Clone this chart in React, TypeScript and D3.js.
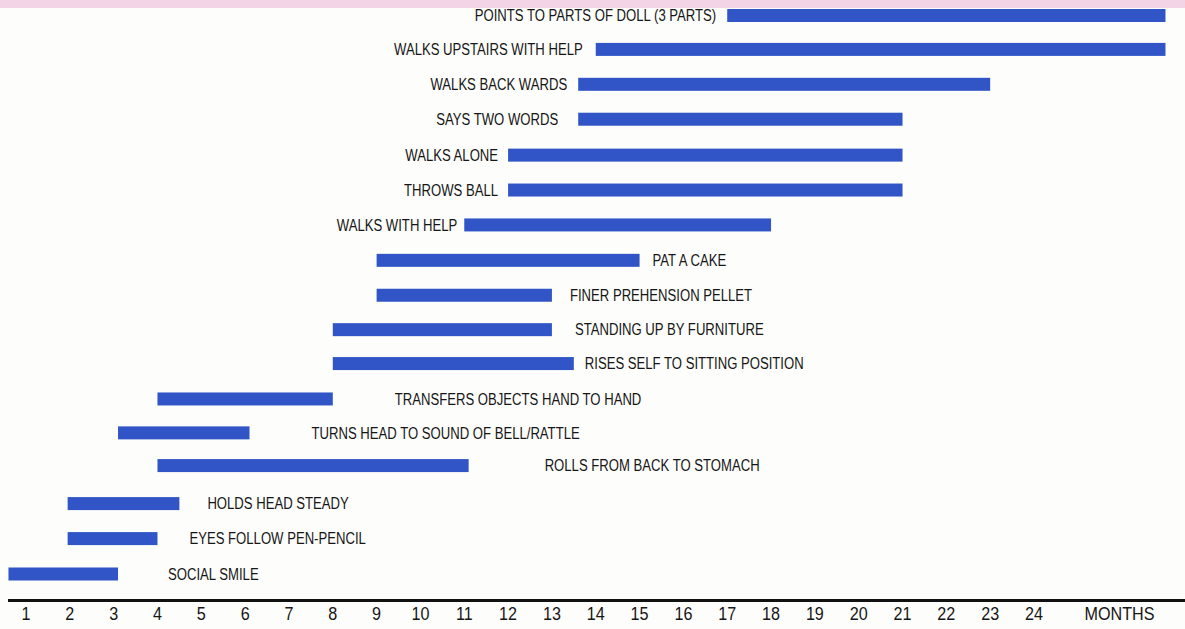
import { useEffect, useRef } from "react";
import * as d3 from "d3";

// milestones, top row first
const milestones = [
  "POINTS TO PARTS OF DOLL (3 PARTS)",
  "WALKS UPSTAIRS WITH HELP",
  "WALKS BACK WARDS",
  "SAYS TWO WORDS",
  "WALKS ALONE",
  "THROWS BALL",
  "WALKS WITH HELP",
  "PAT A CAKE",
  "FINER PREHENSION PELLET",
  "STANDING UP BY FURNITURE",
  "RISES SELF TO SITTING POSITION",
  "TRANSFERS OBJECTS HAND TO HAND",
  "TURNS HEAD TO SOUND OF BELL/RATTLE",
  "ROLLS FROM BACK TO STOMACH",
  "HOLDS HEAD STEADY",
  "EYES FOLLOW PEN-PENCIL",
  "SOCIAL SMILE",
];

// age range in months
const startMonth = [17, 14, 13.6, 13.6, 12, 12, 11, 9, 9, 8, 8, 4, 3.1, 4, 1.95, 1.95, 0.6];
const endMonth = [27, 27, 23, 21, 21, 21, 18, 15, 13, 13, 13.5, 8, 6.1, 11.1, 4.5, 4, 3.1];

// label sits left of the bar for the first 7 rows, right for the rest
const labelSide = ["L", "L", "L", "L", "L", "L", "L", "R", "R", "R", "R", "R", "R", "R", "R", "R", "R"];

const monthTicks = d3.range(1, 25);
const axisTitle = "MONTHS";

// layout only
const labelGap = [11, 13, 11, 20, 10, 10, 7, 13, 18, 23, 11, 62, 62, 76, 28, 32, 50];
const rowNudge = [0, -1, -1, -1, 0, 0, 0, 0.5, 0.5, 0, -1, -0.5, -1.5, -3.7, -0.6, -0.5, 0];

const W = 1185;
const H = 629;

export default function App() {
  const ref = useRef<SVGSVGElement>(null);

  useEffect(() => {
    document.body.style.margin = "0";
    if (!ref.current) return;
    const svg = d3.select(ref.current);
    svg.selectAll("*").remove();

    const x = d3.scaleLinear().domain([1, 24]).range([26, 1034]);
    const y = d3.scalePoint<string>().domain(milestones).range([15.5, 574]);

    svg.append("rect").attr("width", W).attr("height", H).attr("fill", "#fdfdfb");
    svg.append("rect").attr("width", W).attr("height", 8).attr("fill", "#f2d4e6");

    const barH = 13;
    const font = "'Liberation Sans', Arial, sans-serif";

    const rows = milestones.map((name, i) => ({
      name,
      s: startMonth[i],
      e: endMonth[i],
      side: labelSide[i],
      gap: labelGap[i],
      cy: (y(name) || 0) + rowNudge[i],
    }));

    svg
      .append("g")
      .selectAll("rect")
      .data(rows)
      .enter()
      .append("rect")
      .attr("x", (d) => x(d.s))
      .attr("y", (d) => d.cy - barH / 2)
      .attr("width", (d) => x(d.e) - x(d.s))
      .attr("height", barH)
      .attr("fill", "#3155c6");

    svg
      .append("g")
      .selectAll("text")
      .data(rows)
      .enter()
      .append("text")
      .attr("transform", (d) => {
        const tx = d.side === "L" ? x(d.s) - d.gap : x(d.e) + d.gap;
        return `translate(${tx},${d.cy + 5.8}) scale(0.82,1)`;
      })
      .attr("text-anchor", (d) => (d.side === "L" ? "end" : "start"))
      .attr("font-family", font)
      .attr("font-size", 16)
      .attr("fill", "#161616")
      .text((d) => d.name);

    // axis line
    svg
      .append("line")
      .attr("x1", 8)
      .attr("x2", W)
      .attr("y1", 600.5)
      .attr("y2", 600.5)
      .attr("stroke", "#111")
      .attr("stroke-width", 3);

    svg
      .append("g")
      .selectAll("text")
      .data(monthTicks)
      .enter()
      .append("text")
      .attr("transform", (d) => `translate(${x(d)},620) scale(0.85,1)`)
      .attr("text-anchor", "middle")
      .attr("font-family", font)
      .attr("font-size", 19)
      .attr("fill", "#161616")
      .text((d) => d);

    svg
      .append("text")
      .attr("transform", `translate(${x(25.95)},620) scale(0.85,1)`)
      .attr("text-anchor", "middle")
      .attr("font-family", font)
      .attr("font-size", 19)
      .attr("fill", "#161616")
      .text(axisTitle);
  }, []);

  return <svg ref={ref} width={W} height={H} style={{ display: "block" }} />;
}
